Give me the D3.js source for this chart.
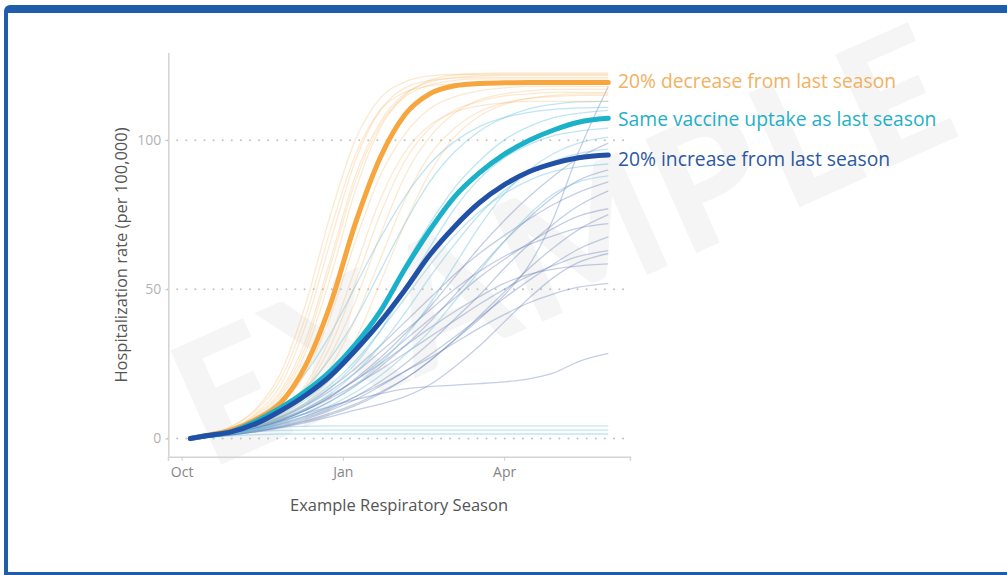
<!DOCTYPE html>
<html>
<head>
<meta charset="utf-8">
<script src="https://cdn.jsdelivr.net/npm/d3@7"></script>
<style>
html,body{margin:0;padding:0;background:#fff;}
svg{display:block;}
</style>
</head>
<body>
<svg id="chart" width="1007" height="575"></svg>
<script>
// ---------- DATA ----------
// x positions: weeks since start of October
const weeks = [0.7, 2, 4, 6, 8, 10, 12, 14, 16, 18, 20, 22, 24, 26, 28, 30, 32, 34.4];
const xTickWeeks = [0, 13, 26];
const xTickLabels = ["Oct", "Jan", "Apr"];
const yTicks = [0, 50, 100];

const scenarioNames = ["20% decrease from last season", "Same vaccine uptake as last season", "20% increase from last season"];
const decreaseMain = [0, 1, 2.8, 6.4, 12, 24.5, 45, 72, 94, 108.5, 115.5, 118.2, 119, 119.2, 119.3, 119.3, 119.3, 119.3];
const sameMain     = [0, 0.9, 2.3, 5.8, 10.3, 15.8, 22.6, 31.5, 42.5, 56.8, 69.8, 81, 89, 95.2, 99.9, 103.4, 106, 107.3];
const increaseMain = [0, 0.9, 2.2, 5, 9.3, 14.5, 21, 29.5, 39, 49.8, 61.5, 71, 79, 85, 89.4, 92.2, 94.1, 95];

// individual model runs (thin lines)
const decreaseRuns = [
  [0, 1.2, 4, 10, 22, 45, 75, 100, 114, 119.5, 121.5, 122, 122, 122, 122, 122, 122, 122],
  [0, 1, 3.5, 8.5, 18, 38, 66, 93, 110, 117.5, 120, 120.8, 121, 121, 121, 121, 121, 121],
  [0, 1, 3, 7, 14, 29, 54, 83, 104, 115, 120, 121.8, 122.3, 122.5, 122.5, 122.5, 122.5, 122.5],
  [0, 0.8, 2.5, 6, 11.5, 22, 41, 66, 88, 102, 110.5, 114.5, 116.5, 117.5, 118, 118, 118, 118],
  [0, 0.8, 2.3, 5, 9.5, 17, 31, 52, 75, 93, 104, 110, 113, 114.8, 115.5, 116, 116, 116],
  [0, 0.7, 2, 4.5, 8, 14, 24, 40, 60, 80, 95, 104, 109.5, 112.5, 114, 114.6, 115, 115],
  [0, 1, 3, 7.5, 15, 31, 58, 86, 105, 114.5, 118.5, 120, 120.5, 120.5, 120.5, 120.5, 120.5, 120.5],
  [0, 0.8, 2.2, 5, 9, 16, 28, 46, 68, 88, 101, 109, 113.5, 115.5, 116.5, 117, 117, 117],
  [0, 0.7, 2, 4.5, 9, 18, 34, 57, 80, 96, 105, 109.5, 111.5, 112.5, 113, 113, 113, 113],
  [0, 1.2, 4, 9.5, 20, 41, 70, 95, 110, 116, 118.2, 118.8, 119, 119, 119, 119, 119, 119],
  [0, 1, 3.2, 8, 16, 33, 60, 88, 106, 115.5, 119.5, 121, 121.5, 121.8, 121.8, 121.8, 121.8, 121.8],
  [0, 0.7, 1.8, 4, 7, 12, 20, 33, 52, 72, 89, 101, 108, 112, 114, 115, 115.5, 115.5]
];
const sameRuns = [
  [0, 0.8, 2.3, 5.5, 10, 17, 27, 40, 56, 72, 86, 96, 103, 107.5, 110.5, 112, 112.8, 113],
  [0, 0.8, 2, 4.5, 8, 13, 20, 30, 43, 58, 72, 84, 93, 100, 104.5, 107.5, 109, 110],
  [0, 0.7, 2, 4, 7, 11, 17, 25, 36, 50, 64, 77, 87, 94, 98.5, 101.5, 103, 104],
  [0, 0.6, 1.6, 3.2, 5.5, 8.5, 12.5, 18, 25, 34, 45, 58, 71, 82, 90, 95.5, 99, 101],
  [0, 0.7, 1.8, 3.8, 6.5, 10, 15, 22, 31, 42, 54, 65, 75, 83, 89, 93, 95.5, 97],
  [0, 1, 3, 7, 13, 22, 35, 51, 67, 81, 92, 99.5, 104.5, 107.5, 109.3, 110.3, 110.8, 111],
  [0, 0.8, 2, 3.2, 3.9, 4.1, 4.2, 4.2, 4.2, 4.2, 4.2, 4.2, 4.2, 4.2, 4.2, 4.2, 4.2, 4.2],
  [0, 0.6, 1.5, 2.3, 2.7, 2.8, 2.8, 2.8, 2.8, 2.8, 2.8, 2.8, 2.8, 2.8, 2.8, 2.8, 2.8, 2.8],
  [0, 0.4, 0.9, 1.3, 1.5, 1.5, 1.5, 1.5, 1.5, 1.5, 1.5, 1.5, 1.5, 1.5, 1.5, 1.5, 1.5, 1.5],
  [0, 0.7, 2, 4.2, 7.5, 12, 18, 26, 36, 47, 58, 68, 76, 82, 86.5, 89.5, 91, 92],
  [0, 0.6, 1.5, 3, 5, 7.5, 11, 15.5, 21, 28, 36, 46, 56, 66, 75, 82, 86, 88]
];
const increaseRuns = [
  [0, 0.5, 1.2, 2.3, 3.8, 5.7, 8, 11, 15, 20, 26, 33, 40, 48, 58, 74, 96, 118],
  [0, 0.6, 1.6, 3.3, 5.5, 8.5, 12.5, 17.5, 24, 31, 39, 48, 57, 66, 74, 81, 86.5, 90],
  [0, 0.5, 1.4, 2.8, 4.7, 7, 10, 14, 19, 25, 32, 40, 48, 57, 65, 72, 78, 83],
  [0, 0.6, 1.7, 3.5, 6, 9.5, 14, 19.5, 26, 33, 40, 47, 54, 60, 65.5, 70.5, 74.5, 77],
  [0, 0.5, 1.2, 2.4, 4, 6, 8.5, 11.5, 15.5, 20, 26, 33, 41, 49, 57, 64, 70, 75],
  [0, 0.7, 2, 4, 7, 11, 16, 22, 29, 36, 43, 50, 56, 61, 65, 68, 70.5, 72],
  [0, 0.5, 1.3, 2.6, 4.3, 6.5, 9.5, 13, 17.5, 22.5, 28, 34, 40.5, 47, 53, 58.5, 63.5, 67.6],
  [0, 0.6, 1.8, 3.7, 6.3, 9.5, 13.5, 18, 23, 28.5, 34, 39.5, 45, 50, 54.5, 58, 61, 63],
  [0, 0.6, 1.8, 3.8, 6.5, 10, 14.5, 19.5, 25, 31, 37, 42.5, 47.5, 52, 55, 56.8, 57.8, 58.5],
  [0, 0.5, 1.5, 3, 5, 7.5, 10.5, 14, 18, 22.5, 27, 32, 37, 41.5, 45.5, 48.5, 50.7, 52],
  [0, 0.6, 1.8, 3.6, 5.8, 8.3, 10.8, 13, 15, 16.6, 17.4, 17.9, 18.4, 19, 20, 22, 25.8, 28.5],
  [0, 0.6, 1.7, 3.5, 6, 9.5, 14, 20, 27, 35, 44, 54, 64, 73, 81, 88, 94, 99],
  [0, 0.7, 2, 4.2, 7.3, 11.5, 17, 23.5, 31, 39, 47, 55, 62, 68, 73.5, 78.5, 82.5, 86],
  [0, 0.5, 1.2, 2.2, 3.6, 5.3, 7.3, 9.5, 11.5, 14, 18, 24, 31, 39, 47, 54, 59, 62]
];

// ---------- CHART ----------
const svg = d3.select("#chart");
const W = 1007, H = 575;

// frame
svg.append("rect").attr("x", 4).attr("y", 5).attr("width", W + 20).attr("height", H + 20)
  .attr("rx", 6).attr("fill", "#1f5ca9");
svg.append("rect").attr("x", 8).attr("y", 13).attr("width", W + 20).attr("height", 559)
  .attr("fill", "#ffffff");

// watermark
svg.append("text")
  .attr("transform", "translate(562,240) rotate(-24)")
  .attr("text-anchor", "middle").attr("dominant-baseline", "central")
  .style("font-family", "Lato, 'Open Sans', sans-serif").style("font-weight", 900)
  .style("font-size", "172px").style("letter-spacing", "5px")
  .attr("fill", "#f5f5f5")
  .text("EXAMPLE");

const x = d3.scaleLinear().domain([-1.1, 36.15]).range([168, 630]);
const y = d3.scaleLinear().domain([-6.1, 129.2]).range([456.7, 53]);

const font2 = "'Open Sans', Lato, sans-serif";

// gridlines
svg.append("g").selectAll("line").data(yTicks).join("line")
  .attr("x1", 168).attr("x2", 628)
  .attr("y1", d => y(d)).attr("y2", d => y(d))
  .attr("stroke", "#c4c4c4").attr("stroke-width", 2)
  .attr("stroke-dasharray", "0.1,9").attr("stroke-linecap", "round");

// x axis
const xAxis = d3.axisBottom(x).tickValues(xTickWeeks)
  .tickFormat((d, i) => xTickLabels[i]).tickSize(4).tickPadding(6);
const gx = svg.append("g").attr("transform", "translate(0,456.7)").call(xAxis);
gx.select(".domain").attr("stroke", "#d3d3d3").attr("stroke-width", 1.5);
gx.selectAll(".tick line").attr("stroke", "#cfcfcf");
gx.selectAll(".tick text").style("font-family", font2).style("font-size", "14px").attr("fill", "#858585");

// y axis
const yAxis = d3.axisLeft(y).tickValues(yTicks).tickSize(3).tickPadding(4);
const gy = svg.append("g").attr("transform", "translate(168.3,0)").call(yAxis);
gy.select(".domain").attr("d", `M0.5,${53}V${456.7}`).attr("stroke", "#d3d3d3").attr("stroke-width", 1.5);
gy.selectAll(".tick line").attr("stroke", "#c4c4c4");
gy.selectAll(".tick text").style("font-family", font2).style("font-size", "14px").attr("fill", "#b3b3b3");

// axis titles
svg.append("text").attr("x", 399).attr("y", 511).attr("text-anchor", "middle")
  .style("font-family", font2).style("font-size", "16.5px").attr("fill", "#555")
  .text("Example Respiratory Season");
svg.append("text").attr("transform", "translate(127,255) rotate(-90)").attr("text-anchor", "middle")
  .style("font-family", font2).style("font-size", "16.5px").attr("fill", "#555")
  .text("Hospitalization rate (per 100,000)");

const line = d3.line().x((d, i) => x(weeks[i])).y(d => y(d)).curve(d3.curveMonotoneX);

const runs = svg.append("g").attr("fill", "none").attr("stroke-width", 1.3);
runs.selectAll(".inc").data(increaseRuns).join("path").attr("class", "inc")
  .attr("d", line).attr("stroke", "#5674b3").attr("stroke-opacity", 0.35);
runs.selectAll(".same").data(sameRuns).join("path").attr("class", "same")
  .attr("d", line).attr("stroke", "#68c2de").attr("stroke-opacity", 0.42);
runs.selectAll(".dec").data(decreaseRuns).join("path").attr("class", "dec")
  .attr("d", line).attr("stroke", "#f6b565").attr("stroke-opacity", 0.3);

const mains = [
  {v: decreaseMain, c: "#f7a63e", tc: "#f2b15f", ly: 80},
  {v: sameMain, c: "#1ab1c9", tc: "#1fb0c8", ly: 118},
  {v: increaseMain, c: "#2051a6", tc: "#2d58a2", ly: 158}
];
svg.append("g").attr("fill", "none").selectAll("path").data(mains).join("path")
  .attr("d", d => line(d.v)).attr("stroke", d => d.c).attr("stroke-width", 5)
  .attr("stroke-linecap", "round").attr("stroke-linejoin", "round");

svg.append("g").selectAll("text").data(mains).join("text")
  .attr("x", 618).attr("y", d => d.ly).attr("dominant-baseline", "central")
  .style("font-family", font2).style("font-size", "19.3px")
  .attr("fill", d => d.tc)
  .text((d, i) => scenarioNames[i]);
</script>
</body>
</html>
